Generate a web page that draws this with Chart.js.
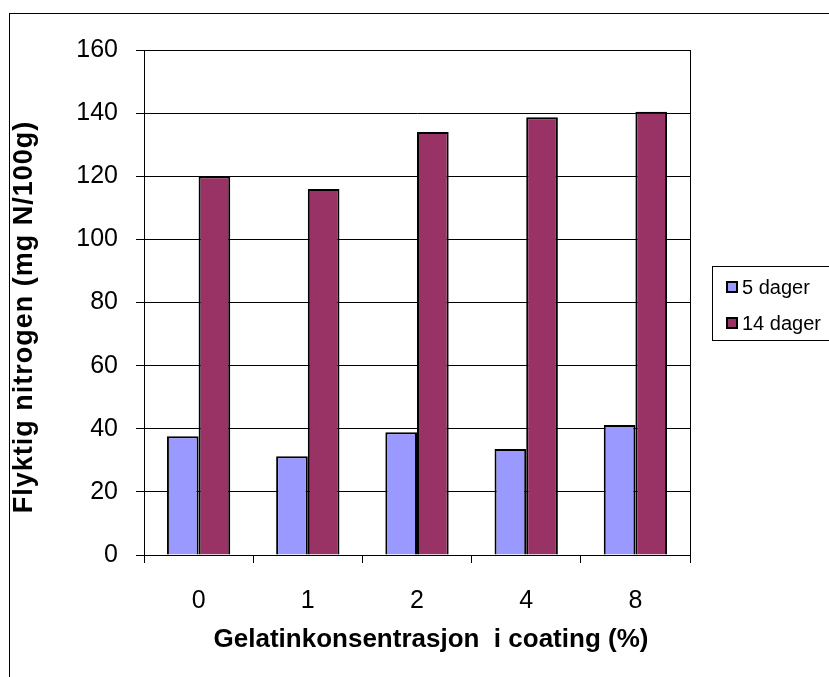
<!DOCTYPE html>
<html>
<head>
<meta charset="utf-8">
<script src="https://cdn.jsdelivr.net/npm/chart.js@4.4.1/dist/chart.umd.min.js"></script>
<style>
  body { margin: 0; background: #fff; overflow: hidden; }
  #frame { position: absolute; left: 9px; top: 13px; width: 900px; height: 800px; border: 1px solid #000; box-sizing: border-box; }
  #wrap { position: absolute; left: 0; top: 0; width: 829px; height: 677px; }
  #legend { position: absolute; left: 712px; top: 266px; width: 200px; height: 75px; border: 1px solid #000; box-sizing: border-box;
            font-family: "Liberation Sans", Arial, sans-serif; font-size: 20px; color: #000; }
  .item { position: absolute; left: 13px; height: 24px; line-height: 24px; white-space: nowrap; }
  .sw { display: inline-block; width: 8px; height: 8px; border: 2px solid #000; margin-right: 4px; vertical-align: 1px; }
</style>
</head>
<body>
<div id="frame"></div>
<div id="wrap"><canvas id="barChart" width="829" height="677"></canvas></div>
<div id="legend"></div>
<script>
var categories = ['0', '1', '2', '4', '8'];
var seriesNames = ['5 dager', '14 dager'];
var days5 = [37.6, 31.3, 38.9, 33.6, 41.2];
var days14 = [120, 116, 134, 138.7, 140.4];
var seriesColors = ['#9999ff', '#993366'];
var xTitle = 'Gelatinkonsentrasjon  i coating (%)';
var yTitle = 'Flyktig nitrogen (mg N/100g)';

var font = "'Liberation Sans', Arial, sans-serif";

// kotak area plot + judul sumbu
var extras = {
  id: 'extras',
  afterDraw: function(chart) {
    var a = chart.chartArea, c = chart.ctx;
    c.save();
    c.strokeStyle = '#000';
    c.lineWidth = 1;
    c.strokeRect(Math.round(a.left) + 0.5, Math.round(a.top) + 0.5, Math.round(a.right - a.left), Math.round(a.bottom - a.top));

    c.fillStyle = '#000';
    c.textAlign = 'center';
    c.textBaseline = 'middle';
    c.font = 'bold 26px ' + font;
    c.fillText(xTitle, 431, 640);

    c.translate(25, 317);
    c.rotate(-Math.PI / 2);
    c.font = 'bold 27px ' + font;
    c.letterSpacing = '1px';
    c.fillText(yTitle, 0, 0);
    c.restore();
  }
};

document.addEventListener('DOMContentLoaded', function() {
  var ctx = document.getElementById('barChart').getContext('2d');

  new Chart(ctx, {
    type: 'bar',
    data: {
      labels: categories,
      datasets: [{
        label: seriesNames[0],
        data: days5,
        backgroundColor: seriesColors[0],
        borderColor: '#000',
        borderWidth: 2
      }, {
        label: seriesNames[1],
        data: days14,
        backgroundColor: seriesColors[1],
        borderColor: '#000',
        borderWidth: 2
      }]
    },
    options: {
      responsive: false,
      animation: false,
      layout: { padding: { top: 50, right: 139, left: 0, bottom: 0 } },
      categoryPercentage: 0.58,
      barPercentage: 1,
      plugins: { legend: { display: false }, tooltip: { enabled: false } },
      scales: {
        x: {
          afterFit: function(s) { s.height = 122; },
          grid: { drawOnChartArea: false, drawTicks: true, tickLength: 8, color: '#000' },
          border: { color: '#000' },
          ticks: { color: '#000', font: { family: font, size: 25 }, padding: 23, maxRotation: 0 }
        },
        y: {
          min: 0,
          max: 160,
          afterFit: function(s) { s.width = 144; },
          grid: { color: '#000', tickLength: 8 },
          border: { color: '#000' },
          ticks: { stepSize: 20, color: '#000', font: { family: font, size: 25 }, padding: 18 }
        }
      }
    },
    plugins: [extras]
  });

  var legend = document.getElementById('legend');
  seriesNames.forEach(function(name, i) {
    var row = document.createElement('div');
    row.className = 'item';
    row.style.top = (8 + i * 36) + 'px';
    row.innerHTML = '<span class="sw" style="background:' + seriesColors[i] + '"></span>' + name;
    legend.appendChild(row);
  });
});
</script>
</body>
</html>
